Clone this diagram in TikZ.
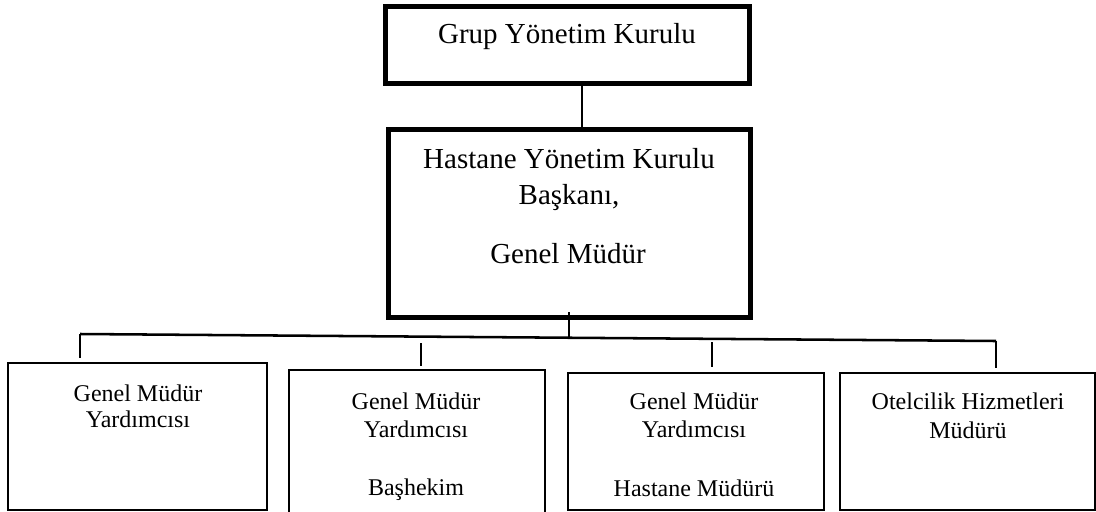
\documentclass[tikz,border=0pt]{standalone}
\usepackage{fontspec}
\setmainfont{Liberation Serif}
\begin{document}
\begin{tikzpicture}[x=0.75pt,y=-0.75pt,
  heavybox/.style={draw,line width=3.75pt,inner sep=0pt,outer sep=0pt},
  lightbox/.style={draw,line width=1.2pt,inner sep=0pt,outer sep=0pt},
  bus/.style={line width=1.9pt},
  link/.style={line width=0.8pt},
  bigtext/.style={font=\fontsize{21.75}{26}\selectfont,anchor=base,inner sep=0pt},
  smalltext/.style={font=\fontsize{18}{22}\selectfont,anchor=base,inner sep=0pt}]
\useasboundingbox (0,0) rectangle (1096,511);

% boxes
\node[heavybox,minimum width=273pt,minimum height=57.75pt] (board) at (567,44.5) {};
\node[heavybox,minimum width=271.5pt,minimum height=141pt] (gm) at (569,223) {};
\node[lightbox,minimum width=194.25pt,minimum height=110.25pt] (dep1) at (137.5,436.5) {};
\node[lightbox,minimum width=192pt,minimum height=112.5pt] (dep2) at (417,445) {};
\node[lightbox,minimum width=192pt,minimum height=102.75pt] (dep3) at (696,441.5) {};
\node[lightbox,minimum width=191.25pt,minimum height=102.75pt] (dep4) at (967.5,441.5) {};

% texts
\node[bigtext] (t0) at (567,43) {Grup Yönetim Kurulu};
\node[bigtext] (t1a) at (569,168) {Hastane Yönetim Kurulu};
\node[bigtext] (t1b) at (569,204) {Başkanı,};
\node[bigtext] (t1c) at (568,263) {Genel Müdür};
\node[smalltext] (t2a) at (138,401) {Genel Müdür};
\node[smalltext] (t2b) at (138,427) {Yardımcısı};
\node[smalltext] (t3a) at (416,409) {Genel Müdür};
\node[smalltext] (t3b) at (416,437) {Yardımcısı};
\node[smalltext] (t3c) at (416,495) {Başhekim};
\node[smalltext] (t4a) at (694,409) {Genel Müdür};
\node[smalltext] (t4b) at (694,437) {Yardımcısı};
\node[smalltext] (t4c) at (694,496) {Hastane Müdürü};
\node[smalltext] (t5a) at (968,409) {Otelcilik Hizmetleri};
\node[smalltext] (t5b) at (968,438) {Müdürü};

% board to general manager
\coordinate (xlink) at (582,0);
\draw[link] (board.south -| xlink) -- (gm.north -| xlink);

% distribution bus
\coordinate (busL) at (80,334);
\coordinate (busR) at (996,341);
\coordinate (gmstub) at (569,312);
\coordinate (gmbus) at (569,338);
\coordinate (d2top) at (421,343);
\coordinate (d3top) at (712,342);
\draw[bus] (busL) -- (busR);
\draw[bus] (gmstub) -- (gmbus);
\draw[bus] (busL) -- ([yshift=3.75pt]dep1.north -| busL);
\draw[bus] (d2top) -- ([yshift=3pt]dep2.north -| d2top);
\draw[bus] (d3top) -- ([yshift=4.5pt]dep3.north -| d3top);
\draw[bus] (busR) -- ([yshift=3.5pt]dep4.north -| busR);
\end{tikzpicture}
\end{document}
